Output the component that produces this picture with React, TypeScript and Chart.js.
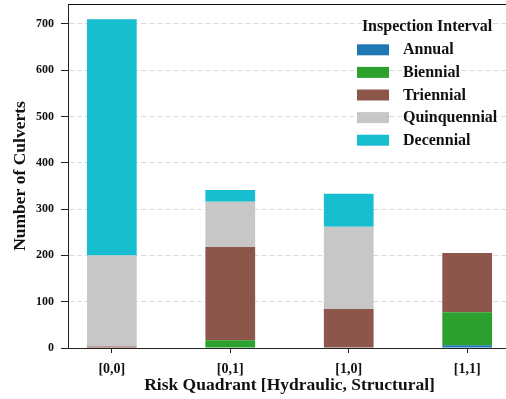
import React, { useEffect, useRef } from "react";
import { Chart, registerables } from "chart.js";

Chart.register(...registerables);

const categories = ["[0,0]", "[0,1]", "[1,0]", "[1,1]"];
const annual = [0, 0, 0, 6];
const biennial = [0, 17, 0, 71];
const triennial = [3, 201, 84, 128];
const quinquennial = [197, 98, 178, 0];
const decennial = [510, 25, 71, 0];
const yTicks = [0, 100, 200, 300, 400, 500, 600, 700];

const seriesNames = ["Annual", "Biennial", "Triennial", "Quinquennial", "Decennial"];
const seriesColors = ["#1f77b4", "#2ca02c", "#8c564b", "#c7c7c7", "#17becf"];
const seriesValues = [annual, biennial, triennial, quinquennial, decennial];

const FONT = "'Liberation Serif', 'Times New Roman', serif";

const frameAndLegend = {
  id: "frameAndLegend",
  afterDraw(chart: any) {
    const { ctx, chartArea } = chart;
    ctx.save();
    ctx.strokeStyle = "#111";
    ctx.lineWidth = 1;
    ctx.beginPath();
    ctx.moveTo(chartArea.left, chartArea.top + 0.5);
    ctx.lineTo(chartArea.right, chartArea.top + 0.5);
    ctx.moveTo(chartArea.right - 0.5, chartArea.top);
    ctx.lineTo(chartArea.right - 0.5, chartArea.bottom);
    ctx.stroke();

    // legend
    ctx.fillStyle = "#111";
    ctx.font = `bold 16px ${FONT}`;
    ctx.textAlign = "center";
    ctx.textBaseline = "middle";
    ctx.fillText("Inspection Interval", 427, 27);
    ctx.textAlign = "left";
    chart.data.datasets.forEach((ds: any, i: number) => {
      const y = 49.8 + i * 22.6;
      ctx.fillStyle = ds.backgroundColor;
      ctx.fillRect(357, y - 5.5, 32, 11);
      ctx.fillStyle = "#111";
      ctx.fillText(ds.label, 403, y + 0.5);
    });
    ctx.restore();
  },
};

export default function App() {
  const ref = useRef<HTMLCanvasElement>(null);
  useEffect(() => {
    if (!ref.current) return;
    const chart = new Chart(ref.current, {
      type: "bar",
      data: {
        datasets: seriesNames.map((name, s) => ({
          label: name,
          data: seriesValues[s].map((v, i) => ({ x: i, y: v })),
          backgroundColor: seriesColors[s],
          borderWidth: 0,
          barPercentage: 0.42,
          categoryPercentage: 1,
        })),
      },
      options: {
        responsive: false,
        animation: false,
        layout: { padding: { top: 4, right: 9, left: 0, bottom: 0 } },
        plugins: { legend: { display: false }, tooltip: { enabled: false } },
        scales: {
          x: {
            type: "linear",
            stacked: true,
            offset: false,
            min: -0.37,
            max: 3.37,
            z: 1,
            afterBuildTicks: (scale: any) => {
              scale.ticks = categories.map((_, i) => ({ value: i }));
            },
            afterFit: (scale: any) => {
              scale.height = 51;
              scale.paddingLeft = 0;
              scale.paddingRight = 0;
            },
            ticks: {
              callback: (v: any) => categories[v as number] ?? "",
              font: { family: FONT, size: 14, weight: "bold" },
              color: "#111",
              padding: 8,
              maxRotation: 0,
              autoSkip: false,
            },
            grid: {
              display: true,
              offset: false,
              drawOnChartArea: false,
              drawTicks: true,
              tickLength: 5,
              tickColor: "#222",
              tickWidth: 1,
            },
            border: { display: true, color: "#222", width: 1 },
            title: {
              display: true,
              text: "Risk Quadrant [Hydraulic, Structural]",
              font: { family: FONT, size: 17.5, weight: "bold" },
              color: "#111",
              padding: { top: 0, bottom: 3.5 },
            },
          },
          y: {
            stacked: true,
            min: 0,
            max: 743,
            z: 1,
            afterBuildTicks: (scale: any) => {
              scale.ticks = yTicks.map((v) => ({ value: v }));
            },
            afterFit: (scale: any) => {
              scale.width = 68;
              scale.paddingTop = 0;
              scale.paddingBottom = 0;
            },
            ticks: {
              font: { family: FONT, size: 12, weight: "bold" },
              color: "#111",
              padding: 7,
            },
            grid: {
              display: true,
              drawOnChartArea: true,
              drawTicks: true,
              tickLength: 7,
              color: (c: any) => (c.tick && c.tick.value === 0 ? "rgba(0,0,0,0)" : "rgba(180,180,180,0.5)"),
              lineWidth: 1,
              tickColor: "#222",
              tickWidth: 1,
              tickBorderDash: [1, 0],
            } as any,
            border: { display: true, color: "#222", width: 1, dash: [5, 3] } as any,
            title: {
              display: true,
              text: "Number of Culverts",
              font: { family: FONT, size: 17.5, weight: "bold" },
              color: "#111",
              padding: { top: 9.5, bottom: 0 },
            },
          },
        },
      },
      plugins: [frameAndLegend],
    });
    return () => chart.destroy();
  }, []);
  return (
    <div style={{ position: "fixed", left: 0, top: 0, width: 506, height: 399, overflow: "hidden", background: "#fff" }}>
      <canvas ref={ref} width={520} height={399} style={{ display: "block" }} />
    </div>
  );
}
